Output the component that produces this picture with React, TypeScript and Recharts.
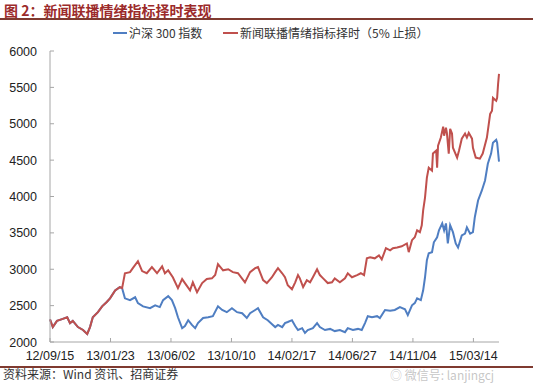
import React from "react";
import { LineChart, Line, XAxis, YAxis } from "recharts";

// ---- data (day offsets from 2012-09-15, index level) ----
const tickLabels = ["12/09/15", "13/01/23", "13/06/02", "13/10/10", "14/02/17", "14/06/27", "14/11/04", "15/03/14"];
const tickStepDays = 130;
const lastDay = 965;
const yTicks = [2000, 2500, 3000, 3500, 4000, 4500, 5000, 5500, 6000];

const hs300Days = [0, 6, 15, 26, 37, 43, 49, 60, 71, 80, 86, 92, 103, 112, 122, 129, 140, 150, 155,
  161, 172, 183, 189, 200, 215, 226, 236, 243, 254, 262, 269, 275, 284, 290, 297, 305, 312, 318, 329, 340, 350,
  361, 370, 380, 391, 402, 413, 423, 430, 441, 447, 458, 468, 479, 484, 490, 499, 505, 511, 520, 527, 533, 542,
  548, 554, 565, 574, 580, 591, 602, 612, 623, 634, 640, 651, 662, 670, 677, 683, 692, 703, 709, 720, 731, 741,
  752, 763, 769, 778, 784, 789, 797, 802, 806, 810, 814, 821, 825, 832, 836, 843, 847, 851, 855, 860, 866, 872,
  877, 885, 892, 896, 903, 909, 913, 920, 928, 935, 941, 948, 952, 959, 961, 965];
const hs300Values = [2310, 2205, 2290, 2315, 2340, 2260, 2290, 2205, 2165, 2110, 2205, 2340, 2410, 2490, 2550, 2600, 2710, 2755, 2740,
  2600, 2575, 2615, 2535, 2490, 2465, 2505, 2480, 2575, 2630, 2575, 2465, 2340, 2190, 2220, 2300, 2235, 2190, 2260, 2330, 2340, 2355,
  2490, 2440, 2410, 2465, 2410, 2395, 2330, 2395, 2440, 2465, 2340, 2300, 2235, 2205, 2235, 2205, 2260, 2275, 2300, 2220, 2165, 2190,
  2125, 2165, 2190, 2260, 2205, 2165, 2180, 2150, 2165, 2135, 2190, 2165, 2180, 2165, 2260, 2355, 2340, 2355, 2330, 2440, 2430, 2440,
  2480, 2450, 2370, 2505, 2535, 2600, 2575, 2710, 2890, 3125, 3220, 3235, 3370, 3440, 3535, 3630, 3535, 3630, 3355, 3605, 3510, 3355,
  3300, 3465, 3490, 3575, 3490, 3510, 3715, 3945, 4080, 4220, 4450, 4590, 4740, 4780, 4740, 4480];

const timingDays = [0, 6, 15, 26, 37, 43, 49, 60, 71, 80, 86, 92, 103, 112, 122, 129, 140, 150, 155,
  161, 172, 178, 189, 198, 208, 219, 230, 241, 247, 254, 264, 275, 284, 290, 301, 307, 316, 327, 337, 348, 355,
  361, 372, 383, 393, 404, 419, 430, 441, 447, 458, 466, 477, 484, 490, 499, 505, 511, 520, 527, 533, 537, 544,
  552, 559, 565, 574, 580, 587, 597, 606, 612, 623, 634, 640, 649, 660, 668, 675, 681, 688, 698, 707, 713, 722,
  731, 737, 746, 756, 767, 771, 778, 784, 789, 795, 799, 802, 806, 810, 814, 821, 823, 830, 832, 834, 840, 845,
  847, 851, 853, 857, 860, 864, 866, 875, 879, 885, 892, 896, 900, 907, 909, 915, 924, 930, 939, 946, 950, 952,
  959, 961, 963, 965];
const timingValues = [2310, 2205, 2290, 2315, 2340, 2260, 2290, 2205, 2165, 2110, 2205, 2340, 2410, 2490, 2550, 2600, 2710, 2755, 2740,
  2945, 2960, 3015, 3110, 2975, 2945, 3030, 2945, 3040, 2945, 2985, 2890, 2740, 2865, 2810, 2710, 2820, 2685, 2810, 2865, 2875, 2920,
  3070, 2985, 3000, 2960, 2945, 2820, 2960, 3015, 3030, 2850, 2810, 2890, 2960, 3015, 2945, 2890, 2780, 2725, 2820, 2920, 2875, 2755,
  2850, 2820, 2890, 3000, 2920, 2875, 2810, 2820, 2875, 2820, 2875, 2945, 2890, 2920, 2945, 2920, 3150, 3165, 3150, 3190, 3135, 3290,
  3260, 3290, 3300, 3315, 3355, 3235, 3400, 3440, 3535, 3510, 3605, 3810, 3985, 4260, 4395, 4355, 4590, 4630, 4395, 4700, 4810, 4960,
  4835, 4945, 4875, 4590, 4930, 4865, 4670, 4535, 4630, 4795, 4865, 4810, 4875, 4795, 4670, 4535, 4520, 4590, 4810, 5135, 5180, 5355,
  5315, 5355, 5545, 5685];

const seriesNames = ["沪深 300 指数", "新闻联播情绪指标择时（5% 止损）"];
const seriesColors = ["#4F7EC2", "#C0504D"];

// ---- build table ----
const allDays = Array.from(new Set([...hs300Days, ...timingDays])).sort((a, b) => a - b);
const hsMap = new Map(hs300Days.map((d, i) => [d, hs300Values[i]]));
const tmMap = new Map(timingDays.map((d, i) => [d, timingValues[i]]));
const table = allDays.map((d) => ({ d, hs300: hsMap.get(d), timing: tmMap.get(d) }));
const xTicks = tickLabels.map((_, i) => i * tickStepDays);

const AX = 50; // y-axis x position
const AY = 342; // x-axis y position
const FONT = "'Liberation Sans', Arial, sans-serif";
const CJK = "'Noto Sans CJK SC', sans-serif";
const axisColor = "#A6A6A6";

const YTick = (props: any) => {
  const { y, payload } = props;
  return (
    <g>
      <line x1={AX} x2={AX + 4} y1={y} y2={y} stroke={axisColor} strokeWidth={1} />
      <text x={AX - 13} y={y} dy="0.36em" textAnchor="end" fontSize={12.5} fontFamily={FONT} fill="#222">
        {payload.value}
      </text>
    </g>
  );
};

const XTick = (props: any) => {
  const { x, payload } = props;
  const idx = Math.round(payload.value / tickStepDays);
  return (
    <g>
      <line x1={x} x2={x} y1={AY} y2={AY - 4} stroke={axisColor} strokeWidth={1} />
      <text x={x} y={AY + 13} dy="0.36em" textAnchor="middle" fontSize={12.5} fontFamily={FONT} fill="#222">
        {tickLabels[idx]}
      </text>
    </g>
  );
};

export default function App() {
  return (
    <div style={{ position: "absolute", left: 0, top: 0, width: 552, height: 387, background: "#fff", overflow: "hidden" }}>
      <div style={{ position: "absolute", left: 0, top: 0 }}>
        <LineChart width={552} height={387} data={table} margin={{ top: 51, right: 53, bottom: 15, left: 0 }}>
          <XAxis
            dataKey="d"
            type="number"
            domain={[0, lastDay]}
            ticks={xTicks}
            tick={<XTick />}
            tickLine={false}
            axisLine={{ stroke: axisColor }}
            height={30}
            interval={0}
          />
          <YAxis
            domain={[2000, 6000]}
            ticks={yTicks}
            tick={<YTick />}
            tickLine={false}
            axisLine={{ stroke: axisColor }}
            width={50}
            interval={0}
          />
          <Line type="linear" dataKey="hs300" stroke={seriesColors[0]} strokeWidth={2} dot={false} connectNulls isAnimationActive={false} />
          <Line type="linear" dataKey="timing" stroke={seriesColors[1]} strokeWidth={2} dot={false} connectNulls isAnimationActive={false} />
        </LineChart>
      </div>

      {/* title */}
      <div style={{ position: "absolute", left: 4, top: 1, fontFamily: CJK, fontWeight: 700, fontSize: 14, lineHeight: "18px", color: "#9C2B2B", whiteSpace: "nowrap" }}>
        图 2：新闻联播情绪指标择时表现
      </div>
      <div style={{ position: "absolute", left: 0, top: 18, width: 533, height: 1.5, background: "#7F3A30" }} />

      {/* legend */}
      <div style={{ position: "absolute", left: 113, top: 32, width: 14, height: 2, background: seriesColors[0] }} />
      <div style={{ position: "absolute", left: 129, top: 25, fontFamily: CJK, fontSize: 12, lineHeight: "16px", color: "#333", whiteSpace: "nowrap" }}>
        {seriesNames[0]}
      </div>
      <div style={{ position: "absolute", left: 223, top: 32, width: 15, height: 2, background: seriesColors[1] }} />
      <div style={{ position: "absolute", left: 240, top: 25, fontFamily: CJK, fontSize: 12, lineHeight: "16px", color: "#333", whiteSpace: "nowrap" }}>
        {seriesNames[1]}
      </div>

      {/* source */}
      <div style={{ position: "absolute", left: 0, top: 366, width: 533, height: 1.5, background: "#7F3A30" }} />
      <div style={{ position: "absolute", left: 3, top: 366, fontFamily: CJK, fontSize: 12, lineHeight: "16px", color: "#333", whiteSpace: "nowrap" }}>
        资料来源：Wind 资讯、招商证券
      </div>

      {/* watermark (kept clear of the tick labels) */}
      <div style={{ position: "absolute", left: 390, top: 368, fontFamily: CJK, fontSize: 12, lineHeight: "14px", color: "rgba(160,160,160,0.6)", whiteSpace: "nowrap" }}>
        ◎ 微信号: lanjingcj
      </div>
    </div>
  );
}
